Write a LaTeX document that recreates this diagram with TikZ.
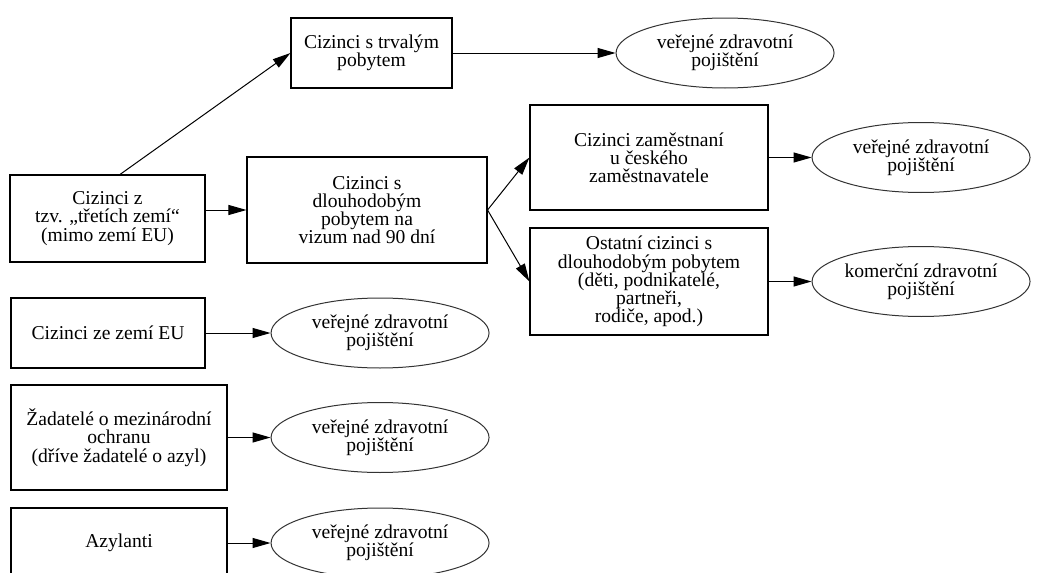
\documentclass[tikz,border=0pt]{standalone}
\usepackage{fontspec}
\setmainfont{Liberation Serif}
\usepackage{tikz}
\usetikzlibrary{shapes,arrows.meta,positioning}

\begin{document}
\begin{tikzpicture}[
    x=1pt, y=1pt,
    box/.style={rectangle, draw=black, line width=0.55pt, align=center, inner sep=2pt, font=\fontsize{9.8pt}{9.1pt}\selectfont},
    ins/.style={ellipse, draw=black!80, line width=0.5pt, align=center, inner xsep=0pt, inner ysep=1pt, minimum width=109pt, minimum height=35pt, font=\fontsize{9.8pt}{9.1pt}\selectfont},
    arr/.style={-{Triangle[length=9pt,width=5pt]}, line width=0.5pt, color=black},
    node distance=21pt and 21pt
]
    \useasboundingbox (0,0) rectangle (520,-286.5);

    % Third countries branch
    \node[box, minimum width=97.5pt, minimum height=43.5pt] (third) at (53.75,-109.25)
        {Cizinci z\\tzv. „třetích zemí“\\(mimo zemí EU)};
    \node[box, minimum width=120pt, minimum height=53pt] (long) at (183.5,-105)
        {Cizinci s\\dlouhodobým\\pobytem na\\vizum nad 90 dní};
    \node[box, minimum width=80.5pt, minimum height=35pt] (perm) at (185.75,-26.5)
        {Cizinci s trvalým\\pobytem};
    \node[box, minimum width=119pt, minimum height=52.5pt] (empl) at (324.5,-78.75)
        {Cizinci zaměstnaní\\u českého\\zaměstnavatele};
    \node[box, minimum width=119pt, minimum height=53.5pt] (other) at (324.5,-140.75)
        {Ostatní cizinci s\\dlouhodobým pobytem\\(děti, podnikatelé,\\partneři,\\rodiče, apod.)};

    % Other groups (left column)
    \node[box, minimum width=97pt, minimum height=35pt] (eu) at (54,-166.5)
        {Cizinci ze zemí EU};
    \node[box, minimum width=108pt, minimum height=52.5pt] (appl) at (59.5,-218.75)
        {Žadatelé o mezinárodní\\ochranu\\(dříve žadatelé o azyl)};
    \node[box, minimum width=108pt, minimum height=35pt] (asyl) at (59.5,-271.5)
        {Azylanti};

    % Insurance
    \node[ins, right=81.5pt of perm]  (insperm)  {veřejné zdravotní\\pojištění};
    \node[ins, right=21.5pt of empl]  (insempl)  {veřejné zdravotní\\pojištění};
    \node[ins, right=21.5pt of other] (insother) {komerční zdravotní\\pojištění};
    \node[ins, right=32.5pt of eu]    (inseu)    {veřejné zdravotní\\pojištění};
    \node[ins, right=21.5pt of appl]  (insappl)  {veřejné zdravotní\\pojištění};
    \node[ins, right=21.5pt of asyl]  (insasyl)  {veřejné zdravotní\\pojištění};

    % Arrows
    \draw[arr] ([xshift=6.25pt]third.north) -- (perm.west);
    \draw[arr] (long.west -| third.east) -- (long.west);
    \draw[arr] (long.east) -- (empl.west);
    \draw[arr] (long.east) -- (other.west);

    \draw[arr] (perm.east)  -- (insperm.west);
    \draw[arr] (empl.east)  -- (insempl.west);
    \draw[arr] (other.east) -- (insother.west);
    \draw[arr] (eu.east)    -- (inseu.west);
    \draw[arr] (appl.east)  -- (insappl.west);
    \draw[arr] (asyl.east)  -- (insasyl.west);

\end{tikzpicture}
\end{document}
